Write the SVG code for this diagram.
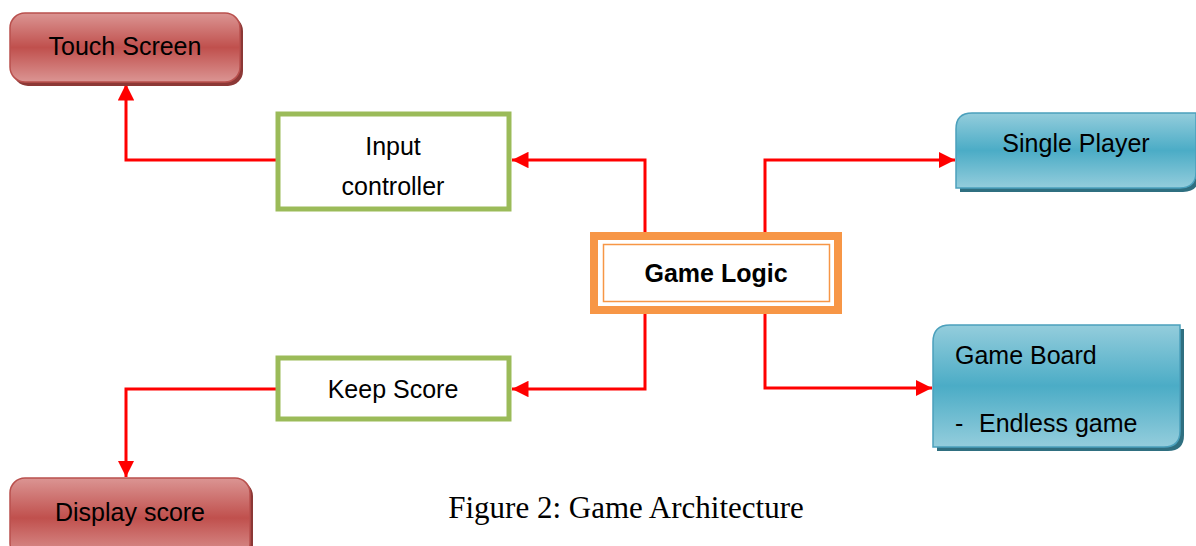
<svg xmlns="http://www.w3.org/2000/svg" width="1196" height="546" viewBox="0 0 1196 546">
<style>
.t{font-family:"Liberation Sans",Arial,sans-serif;font-size:25px;fill:#000}
.c{text-anchor:middle}
.g{fill:#fff;stroke:#9BBB59;stroke-width:5}
.r{fill:url(#red);stroke:#B9504D;stroke-width:1.5}
.rs{fill:#8C3836}
.b{fill:url(#blue);stroke:#4BA0BC;stroke-width:1.5}
.bs{fill:#2F6F80}
.ln{fill:none;stroke:#FF0000;stroke-width:3}
</style>
<defs>
<linearGradient id="red" x1="0" y1="0" x2="0" y2="1">
<stop offset="0" stop-color="#DB9593"/>
<stop offset="0.5" stop-color="#C0504D"/>
<stop offset="1" stop-color="#DB9593"/>
</linearGradient>
<linearGradient id="blue" x1="0" y1="0" x2="0" y2="1">
<stop offset="0" stop-color="#94CDDC"/>
<stop offset="0.5" stop-color="#4BACC6"/>
<stop offset="1" stop-color="#94CDDC"/>
</linearGradient>
<marker id="ah" viewBox="0 0 10 10" refX="10" refY="5" markerWidth="5.5" markerHeight="5.5" orient="auto" markerUnits="strokeWidth">
<path d="M0,0 L10,5 L0,10 Z" fill="#FF0000"/>
</marker>
</defs>

<g id="connectors">
<polyline class="ln" points="276,160 126,160 126,84" marker-end="url(#ah)"/>
<polyline class="ln" points="645,234 645,160 512,160" marker-end="url(#ah)"/>
<polyline class="ln" points="765,234 765,160 955,160" marker-end="url(#ah)"/>
<polyline class="ln" points="645,312 645,389 512,389" marker-end="url(#ah)"/>
<polyline class="ln" points="765,312 765,388 932,388" marker-end="url(#ah)"/>
<polyline class="ln" points="276,389 126,389 126,477" marker-end="url(#ah)"/>
</g>

<g id="touch-screen">
<rect class="rs" x="13" y="16" width="230" height="70" rx="15"/>
<rect class="r" x="10" y="13" width="230" height="69" rx="15"/>
<text class="t c" x="125" y="55">Touch Screen</text>
</g>

<g id="input-controller">
<rect class="g" x="278" y="114" width="231" height="95"/>
<text class="t c" x="393" y="155">Input</text>
<text class="t c" x="393" y="195">controller</text>
</g>

<g id="single-player">
<path class="bs" d="M976,117 H1199 V176 Q1199,192 1183,192 H960 V133 Q960,117 976,117 Z"/>
<path class="b" d="M972,113 H1196 V172 Q1196,188 1180,188 H956 V129 Q956,113 972,113 Z"/>
<text class="t c" x="1076" y="152">Single Player</text>
</g>

<g id="game-logic">
<rect x="594" y="236" width="244" height="74" fill="#fff" stroke="#F79646" stroke-width="8"/>
<rect x="603.5" y="244.5" width="226" height="57" fill="none" stroke="#F79646" stroke-width="1.5"/>
<text class="t c" x="716" y="282" font-weight="bold">Game Logic</text>
</g>

<g id="keep-score">
<rect class="g" x="278" y="358" width="231" height="61"/>
<text class="t c" x="393" y="398">Keep Score</text>
</g>

<g id="game-board">
<path class="bs" d="M954,329 H1184 V435 Q1184,451 1168,451 H937 V346 Q937,329 954,329 Z"/>
<path class="b" d="M950,325 H1180 V431 Q1180,447 1164,447 H933 V342 Q933,325 950,325 Z"/>
<text class="t" x="955" y="364">Game Board</text>
<text class="t" x="955" y="432">-</text>
<text class="t" x="979" y="432">Endless game</text>
</g>

<g id="display-score">
<rect class="rs" x="13" y="481" width="240" height="80" rx="15"/>
<rect class="r" x="10" y="478" width="240" height="80" rx="15"/>
<text class="t c" x="130" y="521">Display score</text>
</g>

<text x="626" y="518" font-family="'Liberation Serif','Times New Roman',serif" font-size="31" text-anchor="middle">Figure 2: Game Architecture</text>
</svg>
